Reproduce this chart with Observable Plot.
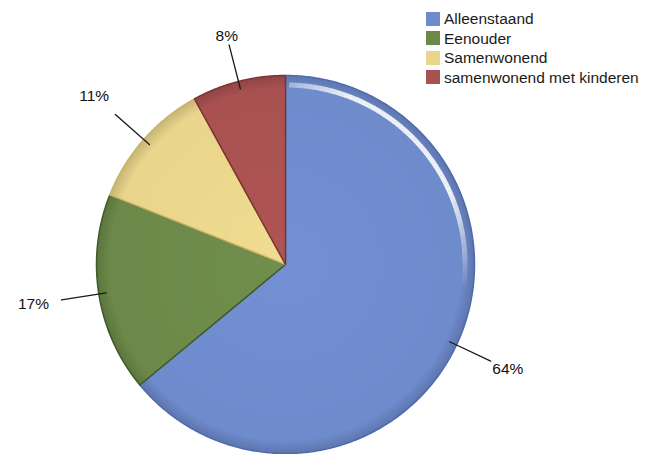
<!DOCTYPE html>
<html><head><meta charset="utf-8">
<script src="https://cdn.jsdelivr.net/npm/d3@7"></script>
<script src="https://cdn.jsdelivr.net/npm/@observablehq/plot@0.6"></script>
<style>
body{margin:0;background:#fff;font-family:"Liberation Sans",Arial,sans-serif;}
#wrap{position:relative;width:658px;height:454px;}
#legend{position:absolute;left:426px;top:9px;font-size:15.5px;color:#1a1a1a;line-height:19.5px;}
#legend div{display:flex;align-items:center;white-space:nowrap;}
#legend span.sw{display:inline-block;width:14px;height:14px;margin-right:4px;}
</style></head><body>
<div id="wrap"><div id="chart"></div><div id="legend"></div></div>
<script>
const categories = ["Alleenstaand","Eenouder","Samenwonend","samenwonend met kinderen"];
const values = [64, 17, 11, 8];
const labels = ["64%","17%","11%","8%"];
const colors = ["#6e8bcc","#6c8949","#e9d58b","#a95151"];
const edgeColors = ["#4e6bae","#3f5a27","#c9b56a","#7a3434"];

const W = 658, H = 454, cx = 285, cy = 264, R = 189;
const pie = d3.pie().sort(null).value(d => d)(values);

const slices = [];
pie.forEach((p, i) => {
  const n = Math.max(8, Math.ceil((p.endAngle - p.startAngle) / 0.01));
  slices.push({k: i, x: 0, y: 0});
  for (let j = 0; j <= n; j++) {
    const a = p.startAngle + (p.endAngle - p.startAngle) * j / n;
    slices.push({k: i, x: Math.sin(a), y: Math.cos(a)});
  }
});
const mids = pie.map((p, i) => ({i, a: (p.startAngle + p.endAngle) / 2}));
const leaders = mids.flatMap(m => [
  {k: m.i, x: 0.96 * Math.sin(m.a), y: 0.96 * Math.cos(m.a)},
  {k: m.i, x: 1.2 * Math.sin(m.a), y: 1.2 * Math.cos(m.a)}
]);
const labelPts = mids.map(m => {
  const r = m.i === 3 ? 1.25 : m.i === 0 ? 1.3 : 1.35;
  return {t: labels[m.i], x: r * Math.sin(m.a), y: r * Math.cos(m.a)};
});
// highlight rim on blue slice (glossy band)
const rimSeg = [];
for (let a = 0.02; a < 1.7; a += 0.01) {
  const op = a < 0.35 ? 0.35 + 0.55 * a / 0.35 : a < 1.15 ? 0.9 : Math.max(0, 0.9 * (1.7 - a) / 0.55);
  rimSeg.push({x1: 0.95 * Math.sin(a), y1: 0.95 * Math.cos(a), x2: 0.95 * Math.sin(a + 0.011), y2: 0.95 * Math.cos(a + 0.011), op});
}

const chart = Plot.plot({
  width: W, height: H, margin: 0,
  x: {domain: [-cx / R, (W - cx) / R], axis: null},
  y: {domain: [-(H - cy) / R, cy / R], axis: null},
  opacity: {type: "identity"},
  marks: [
    Plot.line(slices, {x: "x", y: "y", z: "k", curve: "linear-closed",
      fill: d => `url(#grad${d.k})`, stroke: d => edgeColors[d.k], strokeWidth: 1.5}),
    Plot.link(rimSeg, {x1: "x1", y1: "y1", x2: "x2", y2: "y2", stroke: "#ffffff", strokeWidth: 5, strokeOpacity: "op"}),
    Plot.line(leaders, {x: "x", y: "y", z: "k", stroke: "#1a1a1a", strokeWidth: 1.3}),
    Plot.text(labelPts, {x: "x", y: "y", text: "t", fontSize: 15.5, fill: "#111", fontFamily: "Liberation Sans, Arial, sans-serif"})
  ]
});
const svg = d3.select(chart);
const defs = svg.insert("defs", ":first-child");
colors.forEach((c, i) => {
  const g = defs.append("radialGradient").attr("id", "grad" + i)
    .attr("gradientUnits", "userSpaceOnUse").attr("cx", cx).attr("cy", cy).attr("r", R);
  g.append("stop").attr("offset", "0%").attr("stop-color", d3.color(c).brighter(0.1));
  g.append("stop").attr("offset", "93%").attr("stop-color", c);
  g.append("stop").attr("offset", "100%").attr("stop-color", d3.color(c).darker(0.45));
});
document.getElementById("chart").appendChild(chart);

const leg = d3.select("#legend");
categories.forEach((c, i) => {
  const row = leg.append("div");
  row.append("span").attr("class", "sw").style("background", colors[i]);
  row.append("span").text(c);
});
</script></body></html>
